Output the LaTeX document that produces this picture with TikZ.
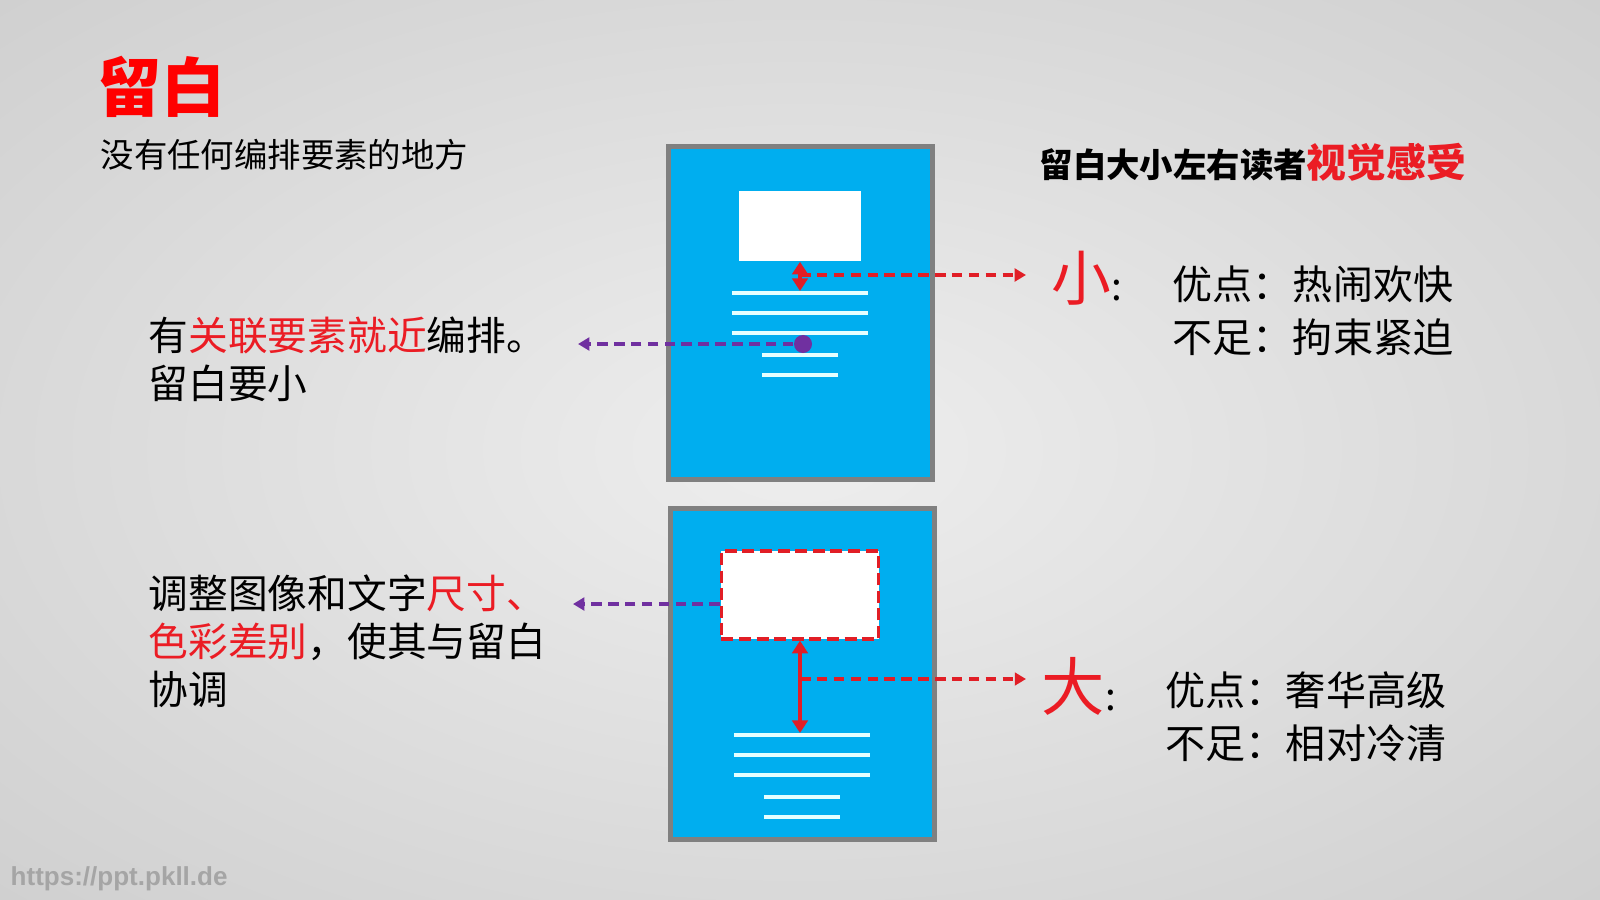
\documentclass[tikz,border=0pt]{standalone}
\usepackage{fontspec}
\setmainfont{Noto Sans CJK SC}
\newfontfamily\urlfont{Liberation Sans}
\usetikzlibrary{arrows.meta, positioning}
\definecolor{pageblue}{RGB}{0,174,239}
\definecolor{pagegray}{RGB}{128,128,128}
\definecolor{markred}{RGB}{225,30,38}
\definecolor{textred}{RGB}{235,28,36}
\definecolor{titlered}{RGB}{255,0,0}
\definecolor{linkpurple}{RGB}{112,48,160}
\definecolor{linewhite}{RGB}{228,255,255}
\definecolor{urlgray}{RGB}{165,165,165}
\definecolor{bgin}{RGB}{238,238,238}
\definecolor{bgmid}{RGB}{214,214,214}
\definecolor{bgout}{RGB}{178,178,178}
\pgfdeclareradialshading{slidebg}{\pgfpoint{0bp}{0bp}}{color(0bp)=(bgin); color(28bp)=(bgmid); color(72bp)=(bgout)}

\begin{document}
\begin{tikzpicture}[
    x=0.01cm, y=-0.01cm,
    page/.style={draw=pagegray, line width=1.4pt, fill=pageblue, inner sep=0pt,
                 minimum width=2.64cm},
    imgbox/.style={fill=white, inner sep=0pt},
    txtline/.style={draw=linewhite, line width=1.15pt},
    gap/.style={{Triangle[length=3.6pt,width=4.4pt]}-{Triangle[length=3.6pt,width=4.4pt]},
                draw=markred, line width=1.1pt},
    lead/.style={-{Triangle[length=3.2pt,width=3.6pt]}, draw=markred, line width=1.1pt,
                 dash pattern=on 3pt off 1.8pt},
    hint/.style={-{Triangle[length=3.2pt,width=3.6pt]}, draw=linkpurple, line width=1.1pt,
                 dash pattern=on 3pt off 1.8pt},
    word/.style={anchor=west, inner sep=0pt, align=left,
                 font=\fontsize{11.3}{13.7}\selectfont},
    pros/.style={anchor=west, inner sep=0pt, align=left,
                 font=\fontsize{11.4}{15}\selectfont},
]
% background
\shade[shading=slidebg] (0,0) rectangle (1600,900);

% title
\node[anchor=west, inner sep=0pt, text=titlered, font=\fontsize{18.2}{20}\selectfont\bfseries] (title) at (97,87) {留白};
\node[anchor=west, inner sep=0pt, font=\fontsize{9.5}{11}\selectfont] (subtitle) at (100,155) {没有任何编排要素的地方};
\node[anchor=west, inner sep=0pt] (head) at (1039,162)
    {{\fontsize{9.5}{11}\selectfont\bfseries 留白大小左右读者}{\color{textred}\fontsize{11.3}{12}\selectfont\bfseries 视觉感受}};

% small white space
\node[page, minimum height=3.33cm] (page1) at (800.5,313) {};
\node[imgbox, minimum width=1.22cm, minimum height=0.70cm] (img1) at (800,226) {};
\foreach \y in {293,313,333} \draw[txtline] (732,\y) -- (868,\y);
\foreach \y in {355,375} \draw[txtline] (762,\y) -- (838,\y);
\node[circle, fill=linkpurple, inner sep=0pt, minimum size=0.18cm] (dot) at (803,344) {};
\coordinate (t1) at (800,291);
\coordinate (k1) at (800,275);
\coordinate (p1) at (578,344);

% large white space
\node[page, minimum height=3.31cm] (page2) at (802.5,674) {};
\node[imgbox, draw=markred, line width=0.9pt, dash pattern=on 3.4pt off 1.6pt,
      minimum width=1.57cm, minimum height=0.88cm] (img2) at (800,595) {};
\foreach \y in {735,755,775} \draw[txtline] (734,\y) -- (870,\y);
\foreach \y in {797,817} \draw[txtline] (764,\y) -- (840,\y);
\coordinate (t2) at (800,733);
\coordinate (k2) at (800,679);
\coordinate (p2) at (573,604);

% left notes
\node[word] (near) at (148,359)
    {有{\color{textred}关联要素就近}编排。\\留白要小};
\node[word] (adjust) at (148,641)
    {调整图像和文字{\color{textred}尺寸、}\\{\color{textred}色彩差别}，使其与留白\\协调};

% right notes
\node[anchor=west, inner sep=0pt] (small) at (1051,278)
    {{\color{textred}\fontsize{17}{18}\selectfont 小}{\fontsize{11}{12}\selectfont :}};
\node[pros] (smallpros) at (1172,310.5) {优点：热闹欢快\\不足：拘束紧迫};
\node[anchor=west, inner sep=0pt] (big) at (1041,686)
    {{\color{textred}\fontsize{18}{19}\selectfont 大}{\fontsize{11}{12}\selectfont :}};
\node[pros] (bigpros) at (1165,716.5) {优点：奢华高级\\不足：相对冷清};

% connectors
\draw[gap] (img1.south) -- (t1);
\draw[lead] (k1) -- ([xshift=-0.25cm]k1 -| small.west);
\draw[hint] (dot) -- (p1);
\draw[gap] (img2.south) -- (t2);
\draw[lead] (k2) -- ([xshift=-0.15cm]k2 -| big.west);
\draw[hint] (img2.west |- p2) -- (p2);

% watermark
\node[anchor=west, inner sep=0pt, text=urlgray, font=\urlfont\bfseries\fontsize{7.4}{8}\selectfont] (url) at (10,879) {https://ppt.pkll.de};
\end{tikzpicture}
\end{document}
